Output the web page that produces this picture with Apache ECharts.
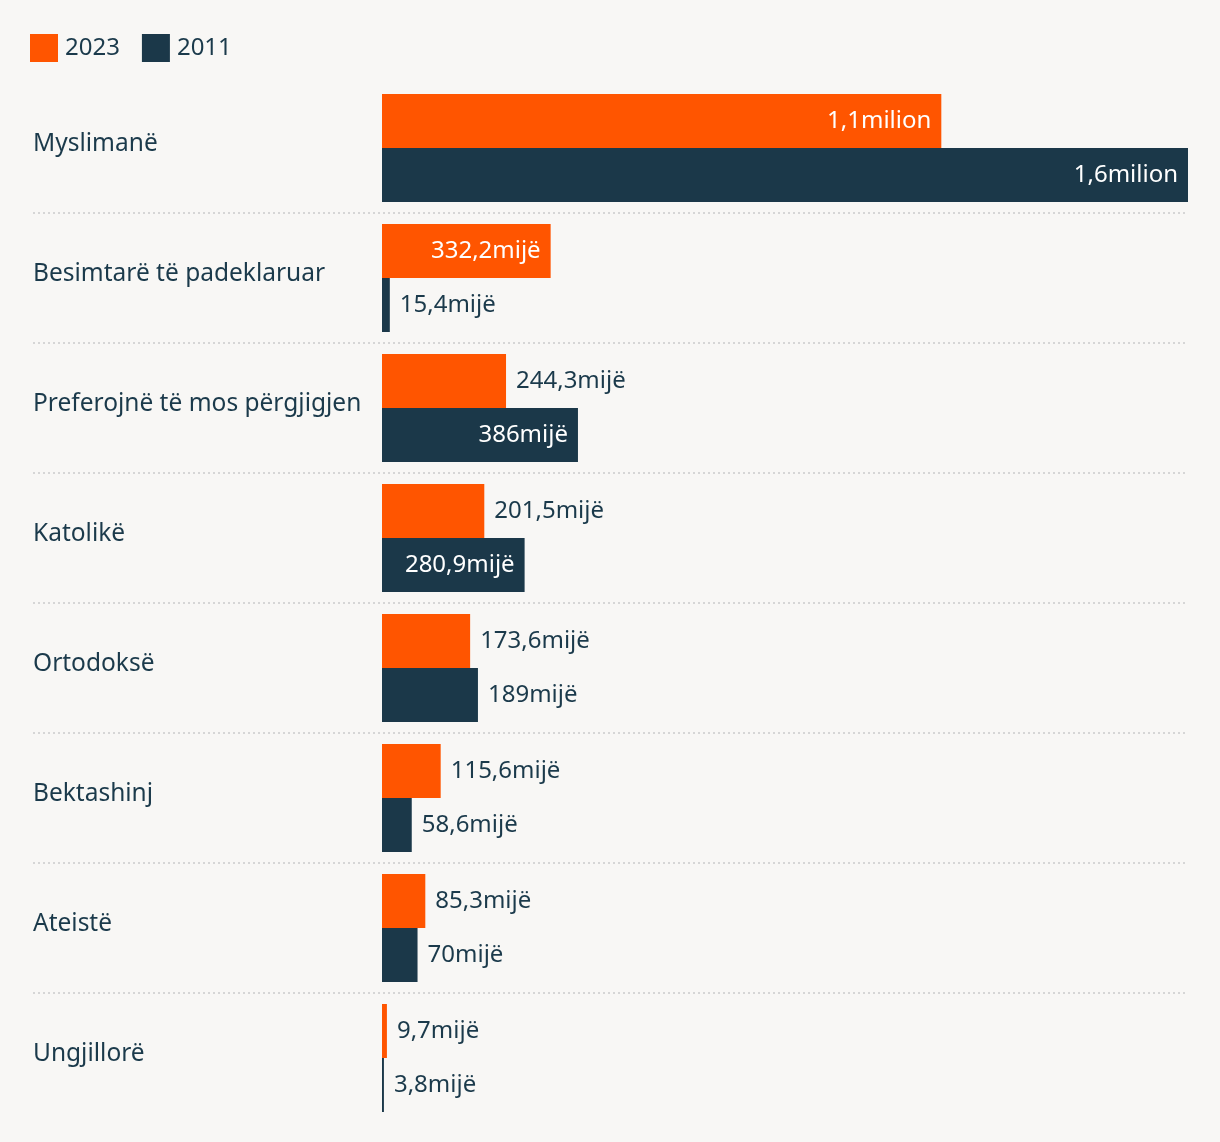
<!DOCTYPE html>
<html>
<head>
<meta charset="utf-8">
<script src="https://cdn.jsdelivr.net/npm/echarts@6/dist/echarts.min.js"></script>
<style>
  html, body { margin: 0; padding: 0; background: #f8f7f5; }
  #chart { width: 1220px; height: 1142px; }
</style>
</head>
<body>
<div id="chart"></div>
<script>
// vlerat në mijë
const categories = ['Myslimanë', 'Besimtarë të padeklaruar', 'Preferojnë të mos përgjigjen', 'Katolikë', 'Ortodoksë', 'Bektashinj', 'Ateistë', 'Ungjillorë'];
const values2023 = [1101.7, 332.2, 244.3, 201.5, 173.6, 115.6, 85.3, 9.7];
const values2011 = [1587.6, 15.4, 386, 280.9, 189, 58.6, 70, 3.8];

const orange = '#ff5500';
const navy = '#1b3849';
const textColor = '#1b3a4b';
const font = 'Noto Sans';

let fmt = (v) => {
  let s = v >= 1000 ? (v / 1000).toFixed(1) + 'milion'
    : (Number.isInteger(v) ? String(v) : v.toFixed(1)) + 'mijë';
  return s.replace('.', ',');
};

// etiketa brenda shiritit kur ka vend, përndryshe jashtë
let toData = (arr) => arr.map((v) => {
  let inside = v > 260;
  return {
    value: v,
    label: {
      position: inside ? 'insideRight' : 'right',
      color: inside ? '#ffffff' : textColor,
    },
  };
});

const xMax = Math.max(...values2011, ...values2023);
// boshti fillon majtas që vijat ndarëse të shtrihen nën emrat
const xMin = -xMax * 349 / 806;

let chart = echarts.init(document.getElementById('chart'));
chart.setOption({
  backgroundColor: '#f8f7f5',
  textStyle: { fontFamily: font },
  legend: {
    left: 30,
    top: 34,
    padding: 0,
    itemWidth: 28,
    itemHeight: 28,
    itemGap: 22,
    icon: 'rect',
    textStyle: { fontSize: 24, color: textColor, fontFamily: font, padding: [0, 0, 0, 2] },
    data: ['2023', '2011'],
  },
  grid: {
    left: 33,
    right: 32,
    top: 83,
    bottom: 19,
    containLabel: false,
  },
  xAxis: {
    type: 'value',
    min: xMin,
    max: xMax,
    show: false,
  },
  yAxis: {
    type: 'category',
    inverse: true,
    data: categories,
    axisLine: { show: false, onZero: false },
    axisTick: { show: false },
    axisLabel: {
      inside: true,
      margin: 0,
      formatter: (v) => '{c|' + v + '}',
      rich: {
        c: {
          fontSize: 24.5,
          color: textColor,
          fontFamily: font,
          padding: [0, 0, 8, 0],
        },
      },
    },
    splitLine: {
      show: true,
      interval: 0,
      showMinLine: false,
      showMaxLine: false,
      lineStyle: { color: '#d6d6d6', type: [2, 3], width: 2 },
    },
  },
  series: [
    {
      name: '2023',
      type: 'bar',
      barWidth: 54,
      barGap: '0%',
      itemStyle: { color: orange },
      label: {
        show: true,
        distance: 10,
        fontSize: 24,
        fontFamily: font,
        formatter: (p) => fmt(p.value),
      },
      data: toData(values2023),
    },
    {
      name: '2011',
      type: 'bar',
      barWidth: 54,
      barGap: '0%',
      itemStyle: { color: navy },
      label: {
        show: true,
        distance: 10,
        fontSize: 24,
        fontFamily: font,
        formatter: (p) => fmt(p.value),
      },
      data: toData(values2011),
    },
  ],
});
</script>
</body>
</html>
